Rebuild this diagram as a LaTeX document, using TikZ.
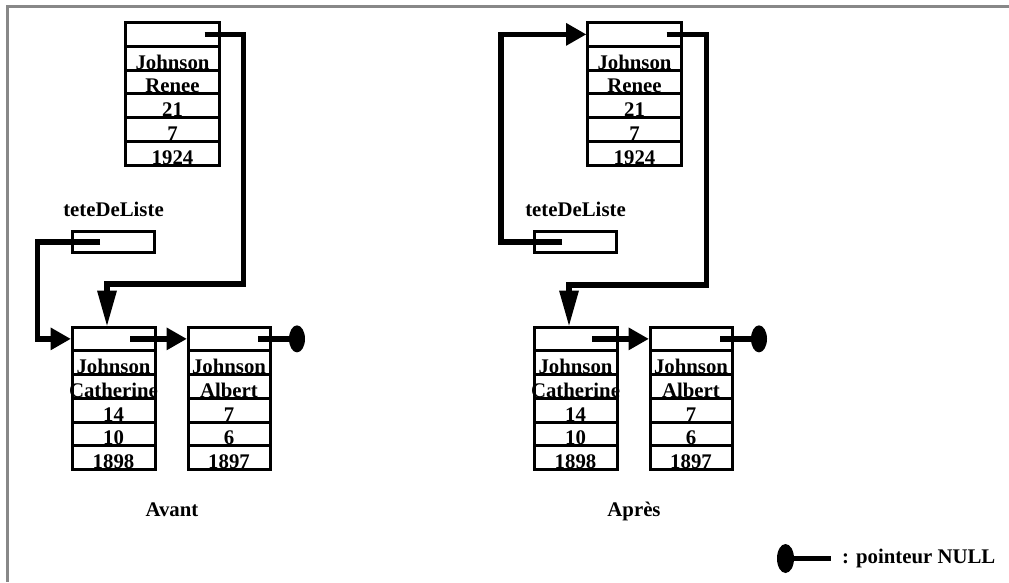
\documentclass[tikz,border=0pt]{standalone}
\usepackage{fontspec}
\setmainfont{Liberation Serif}
\usetikzlibrary{arrows.meta,calc,shapes.geometric}

\definecolor{framegray}{RGB}{136,136,136}

\tikzset{
  txt/.style={font=\fontsize{20.8pt}{24pt}\selectfont\bfseries, inner sep=0pt},
  cell/.style={draw, line width=3pt, minimum width=#1, minimum height=23.75pt,
               inner sep=0pt, outer sep=0pt},
  celltext/.style={txt, anchor=base, yshift=1pt},
  headbox/.style={draw, line width=3pt, minimum width=82pt, minimum height=21pt, inner sep=0pt},
  ptr/.style={line width=5.5pt},
  arrH/.style={-{Triangle[length=20pt,width=23pt,line width=0pt]}, shorten >=1.5pt},
  arrV/.style={-{Triangle[length=35pt,width=20pt,line width=0pt]}, shorten >=1.5pt},
  nullend/.style={ellipse, fill, draw=none, inner sep=0pt, minimum width=#1},
  nullend/.default=16pt,
  frameline/.style={draw=framegray, line width=3pt},
}

% One record: name, top-left corner, width, list of field values.
% Cell 0 holds the "suivant" pointer; cells 1.. hold the fields.
\newcommand{\fiche}[4]{%
  \node[cell=#3, anchor=north west] (#1-0) at (#2) {};
  \foreach \val [count=\k from 1] in {#4} {%
    \pgfmathtruncatemacro{\prev}{\k-1}%
    \node[cell=#3, anchor=north] (#1-\k) at (#1-\prev.south) {};
    \node[celltext] (#1-t\k) at (#1-\k.south) {\val};
  }%
}

\begin{document}
\begin{tikzpicture}[x=1pt, y=-1pt]
  \useasboundingbox (0,0) rectangle (1009,582);
  \fill[white] (0,0) rectangle (1009,582);

  % frame
  \draw[frameline] (1009,6) -- (7.5,6) -- (7.5,582);

  % ---------------- Avant ----------------
  \fiche{LR}{125.5,22.5}{94pt}{Johnson,Renee,21,7,1924}
  \node[headbox] (L-tete) at (113.5,242) {};
  \node[txt, anchor=base] (L-tetename) at ($(L-tete.north)+(0,-14)$) {teteDeListe};
  \fiche{LC}{72,327}{83pt}{Johnson,Catherine,14,10,1898}
  \fiche{LA}{188,327}{82pt}{Johnson,Albert,7,6,1897}
  \node[nullend, minimum height=27pt] (L-null) at ($(LA-0.east)+(27,0)$) {};

  \coordinate (L-bend) at ($(LC-0.north)+(-6.5,-43)$);
  \draw[ptr, arrV] ($(LR-0.east)+(-15,0)$) -- ++(39,0) |- (L-bend) -- (L-bend |- LC-0.north);
  \draw[ptr, arrH] ($(L-tete.west)+(29,0)$) -- ++(-62.5,0) |- (LC-0.west);
  \draw[ptr, arrH] ($(LC-0.east)+(-25,0)$) -- (LA-0.west);
  \draw[ptr] ($(LA-0.east)+(-12,0)$) -- (L-null);

  \node[txt, anchor=base] (L-title) at (172,516) {Avant};

  % ---------------- Après ----------------
  \fiche{RR}{587.5,22.5}{94pt}{Johnson,Renee,21,7,1924}
  \node[headbox] (R-tete) at (575.5,242) {};
  \node[txt, anchor=base] (R-tetename) at ($(R-tete.north)+(0,-14)$) {teteDeListe};
  \fiche{RC}{534,327}{83pt}{Johnson,Catherine,14,10,1898}
  \fiche{RA}{650,327}{82pt}{Johnson,Albert,7,6,1897}
  \node[nullend, minimum height=27pt] (R-null) at ($(RA-0.east)+(27,0)$) {};

  \coordinate (R-bend) at ($(RC-0.north)+(-6.5,-42)$);
  \draw[ptr, arrV] ($(RR-0.east)+(-15,0)$) -- ++(40,0) |- (R-bend) -- (R-bend |- RC-0.north);
  \draw[ptr, arrH] ($(R-tete.west)+(29,0)$) -- ++(-61,0) |- (RR-0.west);
  \draw[ptr, arrH] ($(RC-0.east)+(-25,0)$) -- (RA-0.west);
  \draw[ptr] ($(RA-0.east)+(-12,0)$) -- (R-null);

  \node[txt, anchor=base] (R-title) at (634,516) {Après};

  % ---------------- legend ----------------
  \node[nullend=17pt, minimum height=29pt] (leg-null) at (785.5,558.5) {};
  \coordinate (leg-end) at (831,558.5);
  \draw[ptr] (leg-null) -- (leg-end);
  \node[txt, anchor=base west] (leg-text) at (842,563) {: pointeur NULL};
\end{tikzpicture}
\end{document}
